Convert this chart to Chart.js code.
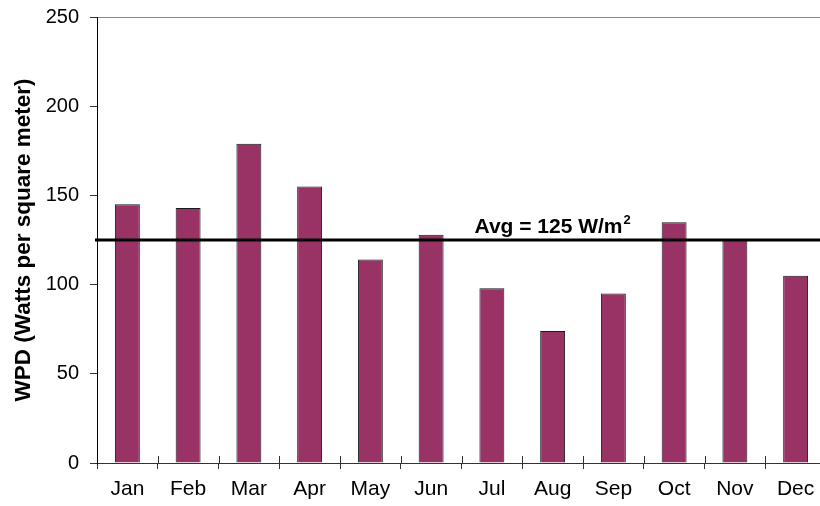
<!DOCTYPE html>
<html>
<head>
<meta charset="utf-8">
<script src="https://cdn.jsdelivr.net/npm/chart.js@4.4.0/dist/chart.umd.min.js"></script>
<style>
  html, body { margin: 0; padding: 0; background: #fff; overflow: hidden; width: 820px; height: 506px; }
  #wrap { width: 830px; height: 506px; }
</style>
</head>
<body>
<div id="wrap"><canvas id="c" width="830" height="506"></canvas></div>
<script>
const months = ['Jan','Feb','Mar','Apr','May','Jun','Jul','Aug','Sep','Oct','Nov','Dec'];
const wpd = [145, 143, 179, 155, 114, 128, 98, 74, 95, 135, 125, 105];
const avgValue = 125;
const avgLabel = 'Avg = 125 W/m';
const avgSup = '2';
const yTicks = [0, 50, 100, 150, 200, 250];
const yTitle = 'WPD (Watts per square meter)';

const FONT = "'Liberation Sans', Arial, Helvetica, sans-serif";

const extras = {
  id: 'extras',
  afterDatasetsDraw(chart) {
    const { ctx, chartArea, scales } = chart;
    const xs = scales.x, ys = scales.y;
    const n = months.length;
    const step = (chartArea.right - chartArea.left) / n;
    ctx.save();
    ctx.strokeStyle = '#333';
    ctx.lineWidth = 1;
    for (let i = 1; i < n; i++) {
      const x = Math.round(chartArea.left + i * step) + 0.5;
      ctx.beginPath();
      ctx.moveTo(x, chartArea.bottom - 7);
      ctx.lineTo(x, chartArea.bottom);
      ctx.stroke();
    }
    const y = ys.getPixelForValue(avgValue);
    ctx.strokeStyle = '#000';
    ctx.lineWidth = 3;
    ctx.beginPath();
    ctx.moveTo(chartArea.left - 2, y);
    ctx.lineTo(chartArea.right, y);
    ctx.stroke();
    ctx.fillStyle = '#000';
    ctx.textBaseline = 'alphabetic';
    ctx.textAlign = 'left';
    ctx.font = 'bold 21px ' + FONT;
    const w1 = ctx.measureText(avgLabel).width;
    ctx.font = 'bold 13px ' + FONT;
    const w2 = ctx.measureText(avgSup).width;
    const cx = xs.getPixelForValue(7);
    const sx = cx - (w1 + w2 + 1) / 2;
    ctx.font = 'bold 21px ' + FONT;
    ctx.fillText(avgLabel, sx, y - 7);
    ctx.font = 'bold 13px ' + FONT;
    ctx.fillText(avgSup, sx + w1 + 1, y - 16);
    ctx.restore();
  }
};

new Chart(document.getElementById('c'), {
  type: 'bar',
  data: {
    labels: months,
    datasets: [{
      data: wpd,
      backgroundColor: '#993366',
      borderColor: '#1a1a1a',
      borderWidth: 1,
      barPercentage: 0.41,
      categoryPercentage: 1.0
    }]
  },
  options: {
    responsive: false,
    animation: false,
    events: [],
    layout: { padding: { top: 17, right: 4, left: 0, bottom: 0 } },
    plugins: { legend: { display: false }, tooltip: { enabled: false }, title: { display: false } },
    scales: {
      x: {
        grid: {
          offset: true,
          drawOnChartArea: false,
          tickLength: 6,
          tickColor: '#333',
          tickWidth: 1
        },
        border: { color: '#333', width: 1 },
        ticks: {
          color: '#000',
          font: { family: FONT, size: 21 },
          padding: 8,
          maxRotation: 0,
          autoSkip: false
        },
        afterFit(scale) { scale.height = 43; scale.paddingLeft = 0; scale.paddingRight = 0; }
      },
      y: {
        min: 0,
        max: 250,
        afterBuildTicks(scale) { scale.ticks = yTicks.map(v => ({ value: v })); },
        grid: {
          color: (c) => (c.tick && c.tick.value === 250) ? '#888' : 'rgba(0,0,0,0)',
          drawOnChartArea: true,
          tickLength: 7,
          tickColor: '#333',
          tickWidth: 1
        },
        border: { color: '#000', width: 1 },
        ticks: {
          color: '#000',
          font: { family: FONT, size: 20 },
          padding: 11
        },
        title: {
          display: true,
          text: yTitle,
          color: '#000',
          font: { family: FONT, size: 22.5, weight: 'bold' },
          padding: { top: 10, bottom: 0 }
        },
        afterFit(scale) { scale.width = 97; scale.paddingTop = 0; scale.paddingBottom = 0; }
      }
    }
  },
  plugins: [extras]
});
</script>
</body>
</html>
